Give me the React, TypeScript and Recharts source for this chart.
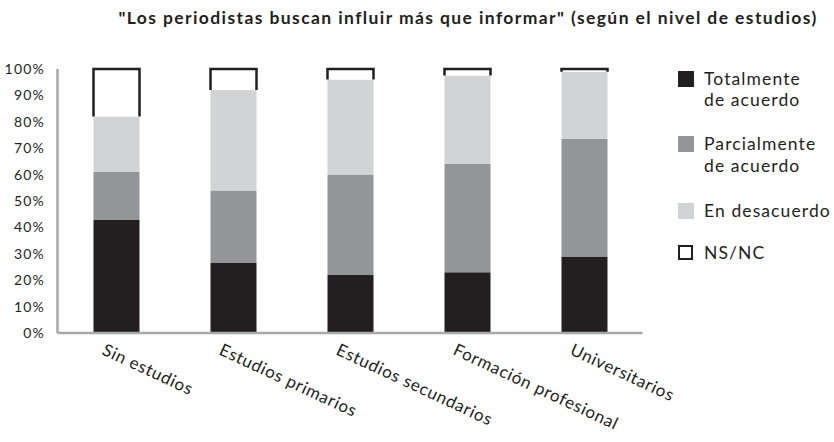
import React from 'react';
import { BarChart, Bar, XAxis, YAxis } from 'recharts';

const categories = [
  'Sin estudios',
  'Estudios primarios',
  'Estudios secundarios',
  'Formación profesional',
  'Universitarios',
];
const totalmente = [43, 26.5, 22, 23, 29];
const parcialmente = [18, 27.5, 38, 41, 44.5];
const desacuerdo = [21, 38, 36, 33.5, 25.5];
const nsnc = [18, 8, 4, 2.5, 1];
const yTicks = [0, 10, 20, 30, 40, 50, 60, 70, 80, 90, 100];

const seriesKeys = ['totalmente', 'parcialmente', 'desacuerdo', 'nsnc'];
const seriesNames = ['Totalmente\nde acuerdo', 'Parcialmente\nde acuerdo', 'En desacuerdo', 'NS/NC'];
const seriesColors = ['#231f20', '#939598', '#d1d3d4', '#ffffff'];

const data = categories.map((name, i) => ({
  name,
  totalmente: totalmente[i],
  parcialmente: parcialmente[i],
  desacuerdo: desacuerdo[i],
  nsnc: nsnc[i],
}));

const FONT = 'Lato, "Open Sans", sans-serif';
const AXIS_GRAY = '#a7a9ac';
const legendGaps = [22.5, 24, 20.5, 0];

const XTick = ({ x, y, payload }: any) => (
  <text
    transform={`translate(${x - 15},${y + 13}) rotate(25)`}
    textAnchor="start"
    fontFamily={FONT}
    fontSize={17}
    letterSpacing={0.7}
    fill="#231f20"
  >
    {payload.value}
  </text>
);

// white top segment: outline on top and sides only
const OutlinedTop = ({ x, y, width, height }: any) => (
  <g>
    <rect x={x} y={y} width={width} height={height} fill="#ffffff" />
    <path
      d={`M${x},${y + height} L${x},${y} L${x + width},${y} L${x + width},${y + height}`}
      fill="none"
      stroke="#231f20"
      strokeWidth={2.5}
    />
  </g>
);

export default function App() {
  return (
    <div style={{ position: 'absolute', left: 0, top: 0, width: 834, height: 442, background: '#fff' }}>
      <div
        style={{
          position: 'absolute',
          left: 0,
          width: 936,
          top: 7,
          textAlign: 'center',
          fontFamily: FONT,
          fontWeight: 700,
          fontSize: 17.5,
          letterSpacing: 1.4,
          color: '#231f20',
          whiteSpace: 'nowrap',
        }}
      >
        "Los periodistas buscan influir más que informar" (según el nivel de estudios)
      </div>

      <BarChart
        width={834}
        height={442}
        data={data}
        margin={{ top: 69, right: 191.5, bottom: 0, left: 0 }}
        barSize={46}
      >
        <XAxis
          dataKey="name"
          interval={0}
          tickLine={false}
          axisLine={{ stroke: AXIS_GRAY, strokeWidth: 2.5 }}
          tick={<XTick />}
          height={109}
        />
        <YAxis
          domain={[0, 100]}
          ticks={yTicks}
          interval={0}
          width={57.5}
          tickLine={false}
          tickMargin={6.5}
          axisLine={{ stroke: AXIS_GRAY, strokeWidth: 2.5 }}
          tickFormatter={(v) => `${v}%`}
          tick={{ fontFamily: FONT, fontSize: 14, fill: '#231f20', letterSpacing: 1.2 }}
        />
        {seriesKeys.map((k, i) => (
          <Bar
            key={k}
            dataKey={k}
            stackId="a"
            fill={seriesColors[i]}
            isAnimationActive={false}
            shape={k === 'nsnc' ? <OutlinedTop /> : undefined}
          />
        ))}
      </BarChart>

      <div
        style={{
          position: 'absolute',
          left: 678,
          top: 67.75,
          fontFamily: FONT,
          fontSize: 17.5,
          letterSpacing: 1.1,
          color: '#231f20',
        }}
      >
        {seriesNames.map((n, i) => (
          <div
            key={n}
            style={{ display: 'flex', alignItems: 'flex-start', marginBottom: legendGaps[i], lineHeight: '21.5px' }}
          >
            <span
              style={{
                display: 'inline-block',
                flexShrink: 0,
                boxSizing: 'border-box',
                width: i === 3 ? 15 : 16,
                height: i === 3 ? 15 : 16,
                marginTop: 3,
                marginRight: i === 3 ? 11 : 10,
                background: seriesColors[i],
                border: i === 3 ? '2px solid #231f20' : 'none',
              }}
            />
            <span style={{ whiteSpace: 'pre-line' }}>{n}</span>
          </div>
        ))}
      </div>
    </div>
  );
}
